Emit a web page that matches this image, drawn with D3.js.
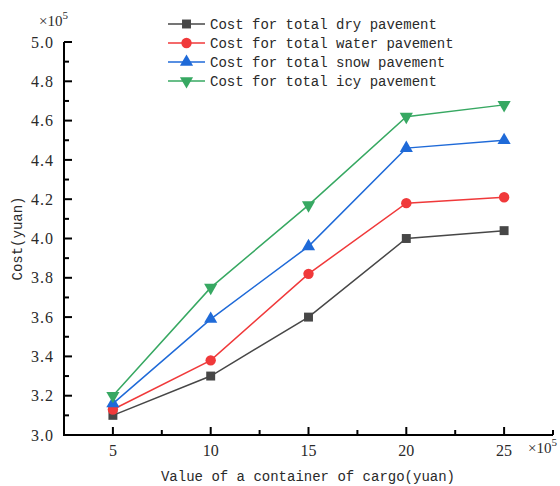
<!DOCTYPE html>
<html lang="en">
<head>
<meta charset="UTF-8">
<title>Cost vs value of cargo</title>
<script src="https://d3js.org/d3.v7.min.js"></script>
<style>
  body { margin: 0; background: #fff; }
</style>
</head>
<body>
<div id="chart"></div>
<script>
// values in units of 10^5
const cargoValues = [5, 10, 15, 20, 25];
const dryCost   = [3.10, 3.30, 3.60, 4.00, 4.04];
const waterCost = [3.13, 3.38, 3.82, 4.18, 4.21];
const snowCost  = [3.16, 3.59, 3.96, 4.46, 4.50];
const icyCost   = [3.20, 3.75, 4.17, 4.62, 4.68];
const seriesNames = [
  "Cost for total dry pavement",
  "Cost for total water pavement",
  "Cost for total snow pavement",
  "Cost for total icy pavement"
];
const xTicks = [5, 10, 15, 20, 25];
const yTicks = [3.0, 3.2, 3.4, 3.6, 3.8, 4.0, 4.2, 4.4, 4.6, 4.8, 5.0];

const W = 560, H = 486;
const mono = "'Liberation Mono', 'DejaVu Sans Mono', monospace";
const serif = "'Liberation Serif', 'DejaVu Serif', serif";
const axisColor = "#000";
const textColor = "#2a2a2a";

const series = [
  { name: seriesNames[0], values: dryCost,   color: "#474747", symbol: d3.symbolSquare,   size: 80, rot: 0 },
  { name: seriesNames[1], values: waterCost, color: "#f0393a", symbol: d3.symbolCircle,   size: 85, rot: 0 },
  { name: seriesNames[2], values: snowCost,  color: "#1f6ad8", symbol: d3.symbolTriangle, size: 75, rot: 0 },
  { name: seriesNames[3], values: icyCost,   color: "#37a862", symbol: d3.symbolTriangle, size: 75, rot: 180 }
];

const svg = d3.select("#chart").append("svg")
  .attr("width", W).attr("height", H);

const x = d3.scaleLinear().domain([2.5, 27.5]).range([64, 553]);
const y = d3.scaleLinear().domain([3.0, 5.0]).range([435, 42]);

const xMinor = d3.range(7.5, 28, 5);
const yMinor = d3.range(3.1, 5.0, 0.2);

// axes: ticks point inward, labels outside
const axes = svg.append("g")
  .style("stroke", axisColor).style("stroke-width", "2px").style("fill", "none");
axes.append("path")
  .attr("d", `M${x(2.5)},${y(5)}V${y(3)}H${x(27.5)}`);
axes.selectAll(null).data(xTicks).enter().append("path")
  .attr("d", d => `M${x(d)},${y(3)}v-8`);
axes.selectAll(null).data(xMinor).enter().append("path")
  .attr("d", d => `M${x(d)},${y(3)}v-5`);
axes.selectAll(null).data(yTicks).enter().append("path")
  .attr("d", d => `M${x(2.5)},${y(d)}h8`);
axes.selectAll(null).data(yMinor).enter().append("path")
  .attr("d", d => `M${x(2.5)},${y(d)}h5`);

svg.selectAll(null).data(xTicks).enter().append("text")
  .attr("x", d => x(d)).attr("y", y(3) + 21)
  .attr("text-anchor", "middle")
  .style("font-family", serif).style("font-size", "16px").style("fill", textColor)
  .text(d3.format("d"));
svg.selectAll(null).data(yTicks).enter().append("text")
  .attr("x", x(2.5) - 10).attr("y", d => y(d)).attr("dy", "0.35em")
  .attr("text-anchor", "end")
  .style("font-family", serif).style("font-size", "16px").style("letter-spacing", "1px").style("fill", textColor)
  .text(d3.format(".1f"));

// scale multipliers
function multiplier(px, py) {
  const t = svg.append("text").attr("x", px).attr("y", py)
    .style("font-family", serif).style("font-size", "15px").style("fill", textColor);
  t.append("tspan").text("×10");
  t.append("tspan").attr("dy", -7).style("font-size", "11px").text("5");
}
multiplier(528, 453);
multiplier(39, 26);

// axis titles
svg.append("text")
  .attr("x", 308).attr("y", 481)
  .attr("text-anchor", "middle")
  .style("font-family", mono).style("font-size", "14px").style("fill", textColor)
  .text("Value of a container of cargo(yuan)");
svg.append("text")
  .attr("transform", `translate(22,${y(4.0)}) rotate(-90)`)
  .attr("text-anchor", "middle")
  .style("font-family", mono).style("font-size", "14px").style("fill", textColor)
  .text("Cost(yuan)");

const line = d3.line().x((d, i) => x(cargoValues[i])).y(d => y(d));

series.forEach(s => {
  svg.append("path")
    .attr("d", line(s.values)).attr("stroke", s.color)
    .attr("stroke-width", 1.5).attr("fill", "none");
  svg.selectAll(null).data(s.values).enter().append("path")
    .attr("d", d3.symbol().type(s.symbol).size(s.size))
    .attr("transform", (d, i) => `translate(${x(cargoValues[i])},${y(d)}) rotate(${s.rot})`)
    .attr("fill", s.color);
});

// legend
const legend = svg.append("g").attr("transform", "translate(168,24)");
series.forEach((s, i) => {
  const g = legend.append("g").attr("transform", `translate(0,${i * 19})`);
  g.append("line").attr("x1", 0).attr("x2", 37).attr("y1", 0).attr("y2", 0)
    .attr("stroke", s.color).attr("stroke-width", 1.5);
  g.append("path").attr("d", d3.symbol().type(s.symbol).size(s.size)())
    .attr("transform", `translate(18.5,0) rotate(${s.rot})`)
    .attr("fill", s.color);
  g.append("text").attr("x", 42).attr("y", 5)
    .style("font-family", mono).style("font-size", "14px").style("fill", textColor)
    .text(s.name);
});
</script>
</body>
</html>
